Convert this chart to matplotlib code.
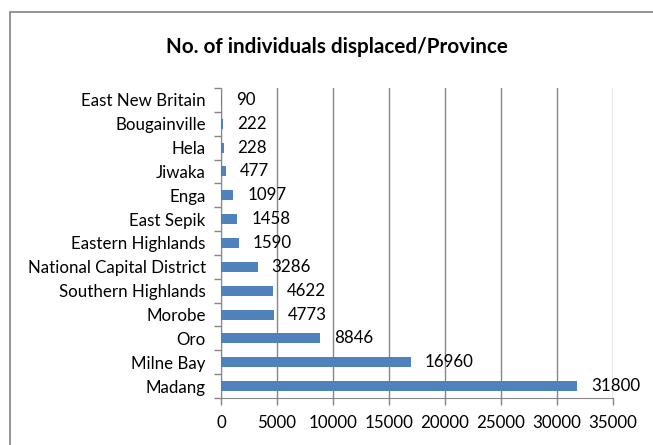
"""
Horizontal bar chart: No. of individuals displaced/Province
"""
import matplotlib
matplotlib.use("Agg")
import matplotlib.pyplot as plt
from matplotlib.patches import Rectangle
import numpy as np

# Data (top-to-bottom in the picture)
provinces = ["East New Britain", "Bougainville", "Hela", "Jiwaka", "Enga",
             "East Sepik", "Eastern Highlands", "National Capital District",
             "Southern Highlands", "Morobe", "Oro", "Milne Bay", "Madang"]
displaced = [90, 222, 228, 477, 1097, 1458, 1590, 3286, 4622, 4773, 8846,
             16960, 31800]
x_ticks = [0, 5000, 10000, 15000, 20000, 25000, 30000, 35000]

BAR_COLOR = "#4F81BD"
GRID_COLOR = "#868686"
FONT = ["Lato", "DejaVu Sans"]
FS = 12.2

plt.rcParams["font.family"] = FONT

fig = plt.figure(figsize=(6.53, 4.45), dpi=100)
fig.patch.set_facecolor("white")

# Рамка диаграммы (выходит за правый и нижний край)
fig.patches.append(Rectangle((10 / 653, -0.05), 1.2, 1 - 12 / 445 + 0.05,
                             transform=fig.transFigure, fill=False,
                             edgecolor="#8c8c8c", linewidth=1.3))

ax = fig.add_axes([221 / 653, 1 - 398 / 445, 392 / 653, 310 / 445])

# Excel draws first category at the bottom -> reverse
labels = provinces[::-1]
values = displaced[::-1]
y = np.arange(len(labels))

ax.barh(y, values, height=0.42, color=BAR_COLOR, zorder=3)

for yi, v in zip(y, values):
    ax.annotate(f"{v}", (v, yi), xytext=(10, 0), textcoords="offset points",
                ha="left", va="center", fontsize=FS, color="#000000")

ax.set_xlim(0, 35000)
ax.set_ylim(-0.5, len(labels) - 0.5)
ax.set_xticks(x_ticks)
ax.set_xticklabels([str(t) for t in x_ticks], fontsize=FS)
ax.set_yticks(y)
ax.set_yticklabels(labels, fontsize=FS)
ax.set_yticks(np.arange(-0.5, len(labels)), minor=True)

ax.tick_params(axis="y", which="major", length=0, pad=11)
ax.tick_params(axis="y", which="minor", length=5, color=GRID_COLOR, width=1)
ax.tick_params(axis="x", which="major", length=5, color=GRID_COLOR, width=1, pad=7)

ax.grid(True, axis="x", color=GRID_COLOR, linewidth=1, zorder=0)

for spine in ["top", "right"]:
    ax.spines[spine].set_visible(False)
for spine in ["bottom", "left"]:
    ax.spines[spine].set_color(GRID_COLOR)

fig.text(337 / 653, 1 - 47 / 445, "No. of individuals displaced/Province",
         ha="center", va="center", fontsize=14.9, fontweight="bold")

fig.savefig("out.png", dpi=100, facecolor="white")
plt.close(fig)
